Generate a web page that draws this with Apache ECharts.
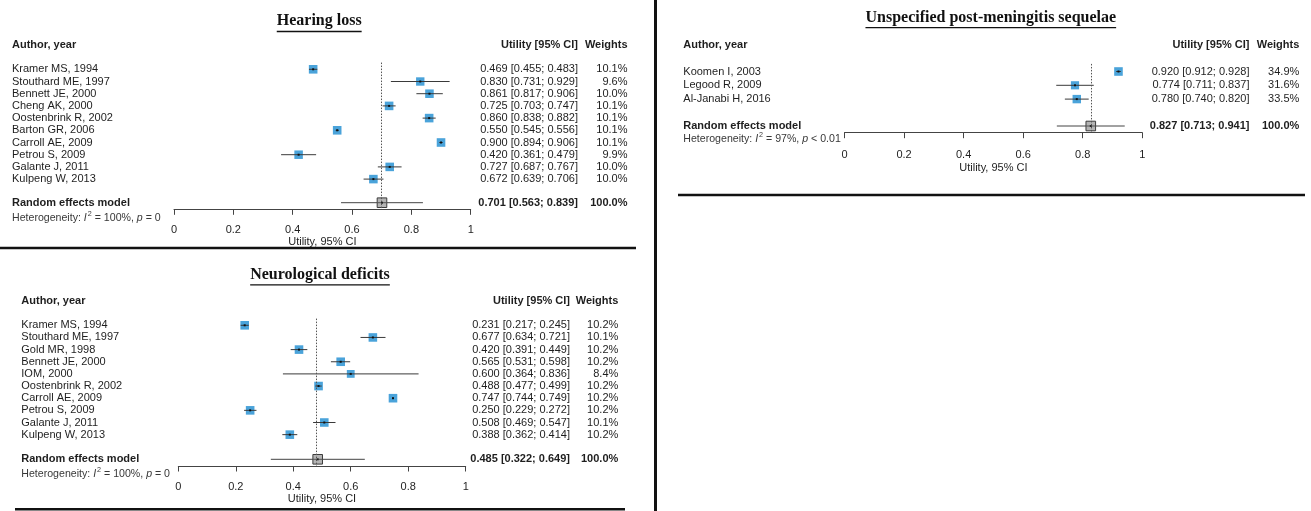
<!DOCTYPE html>
<html>
<head>
<meta charset="utf-8">
<script src="https://cdn.jsdelivr.net/npm/echarts@6/dist/echarts.min.js"></script>
<style>
  html, body { margin: 0; padding: 0; background: #fff; }
  #chart { width: 1311px; height: 511px; }
</style>
</head>
<body>
<div id="chart"></div>
<script>
// ---- Hearing loss ----
const hearingStudies = ['Kramer MS, 1994', 'Stouthard ME, 1997', 'Bennett JE, 2000', 'Cheng AK, 2000',
  'Oostenbrink R, 2002', 'Barton GR, 2006', 'Carroll AE, 2009', 'Petrou S, 2009', 'Galante J, 2011', 'Kulpeng W, 2013'];
const hearingUtility = [0.469, 0.830, 0.861, 0.725, 0.860, 0.550, 0.900, 0.420, 0.727, 0.672];
const hearingLower   = [0.455, 0.731, 0.817, 0.703, 0.838, 0.545, 0.894, 0.361, 0.687, 0.639];
const hearingUpper   = [0.483, 0.929, 0.906, 0.747, 0.882, 0.556, 0.906, 0.479, 0.767, 0.706];
const hearingWeights = [10.1, 9.6, 10.0, 10.1, 10.1, 10.1, 10.1, 9.9, 10.0, 10.0];
const hearingPooled  = [0.701, 0.563, 0.839];
const hearingHet     = ['100%', '=', '0'];

// ---- Neurological deficits ----
const neuroStudies = ['Kramer MS, 1994', 'Stouthard ME, 1997', 'Gold MR, 1998', 'Bennett JE, 2000', 'IOM, 2000',
  'Oostenbrink R, 2002', 'Carroll AE, 2009', 'Petrou S, 2009', 'Galante J, 2011', 'Kulpeng W, 2013'];
const neuroUtility = [0.231, 0.677, 0.420, 0.565, 0.600, 0.488, 0.747, 0.250, 0.508, 0.388];
const neuroLower   = [0.217, 0.634, 0.391, 0.531, 0.364, 0.477, 0.744, 0.229, 0.469, 0.362];
const neuroUpper   = [0.245, 0.721, 0.449, 0.598, 0.836, 0.499, 0.749, 0.272, 0.547, 0.414];
const neuroWeights = [10.2, 10.1, 10.2, 10.2, 8.4, 10.2, 10.2, 10.2, 10.1, 10.2];
const neuroPooled  = [0.485, 0.322, 0.649];
const neuroHet     = ['100%', '=', '0'];

// ---- Unspecified post-meningitis sequelae ----
const sequelaeStudies = ['Koomen I, 2003', 'Legood R, 2009', 'Al-Janabi H, 2016'];
const sequelaeUtility = [0.920, 0.774, 0.780];
const sequelaeLower   = [0.912, 0.711, 0.740];
const sequelaeUpper   = [0.928, 0.837, 0.820];
const sequelaeWeights = [34.9, 31.6, 33.5];
const sequelaePooled  = [0.827, 0.713, 0.941];
const sequelaeHet     = ['97%', '<', '0.01'];

// Shared axis ticks
const utilityTicks = [0, 0.2, 0.4, 0.6, 0.8, 1];

const FONT = "'Liberation Sans', Arial, sans-serif";
const SERIF = "'Liberation Serif', 'Times New Roman', serif";
const TEXT = '#1e1e1e';
const SQUARE_BLUE = '#4aa3da';

// Page layout of each forest block (pixels)
const panels = [
  { title: 'Hearing loss', studies: hearingStudies, est: hearingUtility, lo: hearingLower, hi: hearingUpper,
    w: hearingWeights, pooled: hearingPooled, het: hearingHet,
    L: { plotL: 174, plotR: 470.7, rowTop: 69.3, pitch: 12.2, axisY: 209.3, sumY: 202.7, hetY: 217.3,
         nameX: 12, ciRight: 578, wRight: 627.5, headY: 45, titleX: 319.2, titleBase: 29.3,
         labelMargin: 15, nameGap: 25.5 } },
  { title: 'Neurological deficits', studies: neuroStudies, est: neuroUtility, lo: neuroLower, hi: neuroUpper,
    w: neuroWeights, pooled: neuroPooled, het: neuroHet,
    L: { plotL: 178.3, plotR: 465.7, rowTop: 325.3, pitch: 12.15, axisY: 466, sumY: 459.3, hetY: 472.7,
         nameX: 21.3, ciRight: 570, wRight: 618.3, headY: 300.7, titleX: 320, titleBase: 282.7,
         labelMargin: 15.5, nameGap: 26.5 } },
  { title: 'Unspecified post-meningitis sequelae', studies: sequelaeStudies, est: sequelaeUtility, lo: sequelaeLower,
    hi: sequelaeUpper, w: sequelaeWeights, pooled: sequelaePooled, het: sequelaeHet,
    L: { plotL: 844.5, plotR: 1142.3, rowTop: 71.5, pitch: 13.8, axisY: 132.7, sumY: 126, hetY: 137.7,
         nameX: 683.3, ciRight: 1249.5, wRight: 1299.3, headY: 45, titleX: 990.8, titleBase: 25.5,
         labelMargin: 16.5, nameGap: 30 } }
];

function ciText(e, l, h) {
  return e.toFixed(3) + ' [' + l.toFixed(3) + '; ' + h.toFixed(3) + ']';
}

const measureCtx = document.createElement('canvas').getContext('2d');
function textWidth(str, font) { measureCtx.font = font; return measureCtx.measureText(str).width; }

const grids = [], xAxes = [], yAxes = [], series = [], graphics = [];

panels.forEach((p, k) => {
  const L = p.L;
  const yMin = -0.55;
  const yMax = (L.axisY - L.rowTop) / L.pitch;
  const top = L.rowTop + yMin * L.pitch;
  const sumRow = (L.sumY - L.rowTop) / L.pitch;
  const hetDy = L.hetY - L.sumY;
  const maxW = Math.max.apply(null, p.w);

  grids.push({ left: L.plotL, width: L.plotR - L.plotL, top: top, height: L.axisY - top, containLabel: false });
  xAxes.push({
    gridIndex: k, type: 'value', min: utilityTicks[0], max: utilityTicks[utilityTicks.length - 1],
    interval: utilityTicks[1] - utilityTicks[0],
    axisLine: { show: true, onZero: false, lineStyle: { color: '#444', width: 1 } },
    axisTick: { show: true, length: 5.5, inside: false, lineStyle: { color: '#444', width: 1 } },
    splitLine: { show: false },
    axisLabel: { fontFamily: FONT, fontSize: 11, color: TEXT, margin: L.labelMargin,
                 formatter: v => String(+v.toFixed(1)) },
    name: 'Utility, 95% CI', nameLocation: 'middle', nameGap: L.nameGap,
    nameTextStyle: { fontFamily: FONT, fontSize: 11, color: TEXT }
  });
  yAxes.push({ gridIndex: k, type: 'value', inverse: true, min: yMin, max: yMax, show: false });

  // dotted vertical line at the pooled estimate
  series.push({
    type: 'line', xAxisIndex: k, yAxisIndex: k, data: [], silent: true, z: 1,
    markLine: { symbol: 'none', silent: true, label: { show: false }, animation: false,
      lineStyle: { type: [1.5, 1.5], color: '#555', width: 1 },
      data: [{ xAxis: p.pooled[0] }] }
  });

  // individual studies
  series.push({
    type: 'custom', xAxisIndex: k, yAxisIndex: k, clip: false, z: 3, silent: true,
    data: p.est.map((e, i) => ({ name: p.studies[i], value: [e, p.lo[i], p.hi[i], p.w[i], i] })),
    renderItem: (params, api) => {
      const e = api.value(0), lo = api.value(1), hi = api.value(2), w = api.value(3), row = api.value(4);
      const c = api.coord([e, row]);
      const a = api.coord([lo, row]);
      const b = api.coord([hi, row]);
      const s = 8.6 * Math.sqrt(w / maxW);
      const name = p.studies[params.dataIndex];
      return { type: 'group', children: [
        { type: 'rect', shape: { x: c[0] - s / 2, y: c[1] - s / 2, width: s, height: s },
          style: { fill: SQUARE_BLUE } },
        { type: 'line', shape: { x1: a[0], y1: c[1], x2: b[0], y2: c[1] },
          style: { stroke: '#3a3a3a', lineWidth: 1 } },
        { type: 'rect', shape: { x: c[0] - 1, y: c[1] - 1, width: 2, height: 2 },
          style: { fill: '#111' } },
        { type: 'text', x: L.nameX, y: c[1],
          style: { text: name, fontFamily: FONT, fontSize: 11, fill: TEXT, align: 'left', verticalAlign: 'middle' } },
        { type: 'text', x: L.ciRight, y: c[1],
          style: { text: ciText(e, lo, hi), fontFamily: FONT, fontSize: 11, fill: TEXT, align: 'right', verticalAlign: 'middle' } },
        { type: 'text', x: L.wRight, y: c[1],
          style: { text: w.toFixed(1) + '%', fontFamily: FONT, fontSize: 11, fill: TEXT, align: 'right', verticalAlign: 'middle' } }
      ] };
    }
  });

  // pooled (random effects) estimate
  series.push({
    type: 'custom', xAxisIndex: k, yAxisIndex: k, clip: false, z: 3, silent: true,
    data: [{ value: [p.pooled[0], p.pooled[1], p.pooled[2], sumRow] }],
    renderItem: (params, api) => {
      const e = api.value(0), lo = api.value(1), hi = api.value(2), row = api.value(3);
      const c = api.coord([e, row]);
      const a = api.coord([lo, row]);
      const b = api.coord([hi, row]);
      const s = 9.6;
      const het = '{n|Heterogeneity: }{i|I}{s|2}{n| = ' + p.het[0] + ', }{i|p}{n| ' + p.het[1] + ' ' + p.het[2] + '}';
      return { type: 'group', children: [
        { type: 'line', shape: { x1: a[0], y1: c[1], x2: b[0], y2: c[1] },
          style: { stroke: '#444', lineWidth: 1 } },
        { type: 'rect', shape: { x: c[0] - s / 2, y: c[1] - s / 2, width: s, height: s },
          style: { fill: '#b4b4b4', stroke: '#3c3c3c', lineWidth: 1 } },
        { type: 'line', shape: { x1: c[0] - s / 2, y1: c[1], x2: c[0] + s / 2, y2: c[1] },
          style: { stroke: '#555', lineWidth: 1 } },
        { type: 'rect', shape: { x: c[0] - 1, y: c[1] - 1, width: 2, height: 2 }, style: { fill: '#222' } },
        { type: 'text', x: L.nameX, y: c[1],
          style: { text: 'Random effects model', fontFamily: FONT, fontSize: 11, fontWeight: 'bold', fill: TEXT,
                   align: 'left', verticalAlign: 'middle' } },
        { type: 'text', x: L.nameX, y: c[1] + hetDy,
          style: { text: het, align: 'left', verticalAlign: 'middle',
            rich: {
              n: { fontFamily: FONT, fontSize: 10.6, fill: '#383838', lineHeight: 13, verticalAlign: 'bottom' },
              i: { fontFamily: FONT, fontSize: 10.6, fontStyle: 'italic', fill: '#383838', lineHeight: 13, verticalAlign: 'bottom' },
              s: { fontFamily: FONT, fontSize: 7.2, fill: '#383838', lineHeight: 13, verticalAlign: 'top', padding: [0, 0, 0, 1] }
            } } },
        { type: 'text', x: L.ciRight, y: c[1],
          style: { text: ciText(e, lo, hi), fontFamily: FONT, fontSize: 11, fontWeight: 'bold', fill: TEXT,
                   align: 'right', verticalAlign: 'middle' } },
        { type: 'text', x: L.wRight, y: c[1],
          style: { text: '100.0%', fontFamily: FONT, fontSize: 11, fontWeight: 'bold', fill: TEXT,
                   align: 'right', verticalAlign: 'middle' } }
      ] };
    }
  });

  // column headers
  const headStyle = { fontFamily: FONT, fontSize: 11, fontWeight: 'bold', fill: TEXT, verticalAlign: 'middle' };
  graphics.push({ type: 'text', x: L.nameX, y: L.headY, style: Object.assign({ text: 'Author, year', align: 'left' }, headStyle) });
  graphics.push({ type: 'text', x: L.ciRight, y: L.headY, style: Object.assign({ text: 'Utility [95% CI]', align: 'right' }, headStyle) });
  graphics.push({ type: 'text', x: L.wRight, y: L.headY, style: Object.assign({ text: 'Weights', align: 'right' }, headStyle) });

  // underlined block title
  const titleFont = 'bold 16px ' + SERIF;
  const tw = textWidth(p.title, titleFont);
  graphics.push({ type: 'text', x: L.titleX, y: L.titleBase,
    style: { text: p.title, fontFamily: SERIF, fontSize: 16, fontWeight: 'bold', fill: '#111',
             align: 'center', verticalAlign: 'bottom' } });
  graphics.push({ type: 'line', shape: { x1: L.titleX - tw / 2, y1: L.titleBase + 2.2, x2: L.titleX + tw / 2, y2: L.titleBase + 2.2 },
    style: { stroke: '#111', lineWidth: 1.3 } });
});

// block separators
const sep = { stroke: '#111', lineWidth: 2.6 };
graphics.push({ type: 'line', shape: { x1: 0, y1: 248, x2: 636, y2: 248 }, style: sep });
graphics.push({ type: 'line', shape: { x1: 15, y1: 509.3, x2: 625, y2: 509.3 }, style: sep });
graphics.push({ type: 'line', shape: { x1: 655.5, y1: 0, x2: 655.5, y2: 511 }, style: { stroke: '#111', lineWidth: 3 } });
graphics.push({ type: 'line', shape: { x1: 678, y1: 195, x2: 1305, y2: 195 }, style: sep });

const chart = echarts.init(document.getElementById('chart'), null, { renderer: 'canvas' });
chart.setOption({
  backgroundColor: '#ffffff',
  animation: false,
  grid: grids,
  xAxis: xAxes,
  yAxis: yAxes,
  series: series,
  graphic: { elements: graphics }
});
</script>
</body>
</html>
